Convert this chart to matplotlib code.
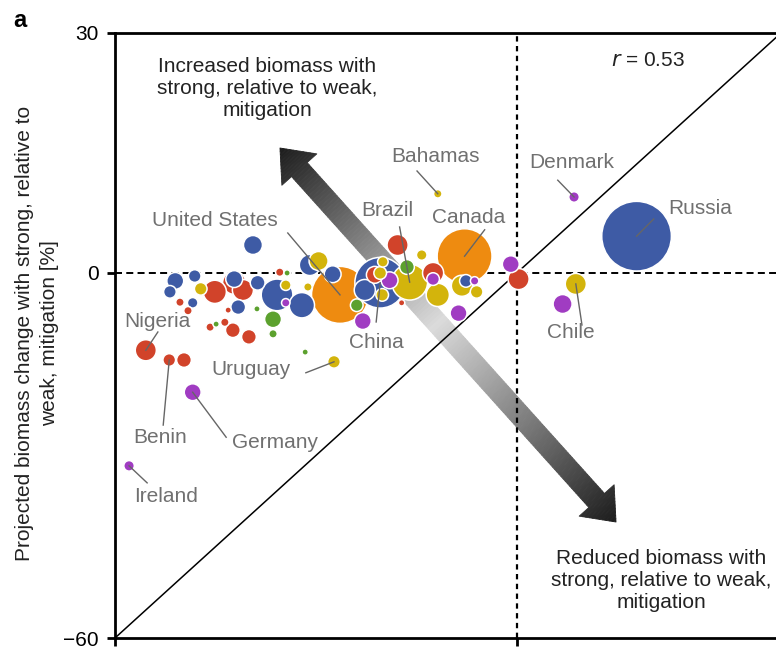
import numpy as np
import matplotlib
matplotlib.use("Agg")
import matplotlib.pyplot as plt
from matplotlib.collections import PolyCollection

plt.rcParams['font.family'] = ['Liberation Sans', 'DejaVu Sans']

# ---------------------------------------------------------------------------
# Per-country values: biomass change [%] (x: weak mitigation, y: strong
# relative to weak), bubble magnitude and region.
# ---------------------------------------------------------------------------
names = ['Russia', 'Canada', 'United States', 'China', 'Brazil', 'Bahamas',
         'Denmark', 'Chile', 'Nigeria', 'Benin', 'Germany', 'Ireland',
         'Uruguay'] + [''] * 59

x_vals = [13.6, -7.8, -26.4, -20.4, -16.0, -11.8,
          6.5, 6.7, -55.4, -51.9, -48.4, -57.9,
          -27.3,
          -49.7, 0.2, -0.9, -8.7, 5.2, -23.0, -31.6, -39.4, -17.8, -51.0,
          -48.1, -51.8, -47.2, -45.1, -50.3, -48.4, -49.1, -42.2, -42.2, -40.9,
          -41.6, -43.1, -45.8, -44.9, -43.6, -42.4, -40.0, -38.7, -35.4, -34.3,
          -34.5, -35.8, -34.5, -32.1, -38.8, -36.4, -36.4, -30.9, -29.6, -27.5,
          -31.2, -21.2, -20.4, -19.0, -20.1, -16.4, -14.2, -12.5, -12.5, -11.8,
          -17.2, -8.2, -7.6, -6.3, -20.0, -22.7, -23.9, -6.0]

y_vals = [4.6, 2.1, -3.6, -1.6, -1.5, 9.9,
          9.5, -1.8, -12.7, -14.3, -19.6, -31.7,
          -14.6,
          -14.3, -1.0, 1.1, -6.6, -5.1, -7.9, -13.0, 3.5, 3.5, -1.3,
          -0.5, -3.1, -2.6, -3.1, -4.8, -4.9, -6.2, -1.6, -1.0, -2.8,
          -5.6, -6.1, -8.9, -8.4, -8.1, -9.4, -10.5, -1.6, 0.1, 0.0,
          -2.0, -3.6, -4.9, -5.3, -5.9, -7.6, -10.0, 1.0, 1.5, -0.2,
          -2.3, -0.3, 0.0, -1.2, -3.6, 0.75, 2.25, 0.0, -1.0, -3.6,
          -4.9, -2.1, -1.3, -1.3, 1.4, -2.8, -5.3, -3.1]

bubble_mag = [33, 26, 27, 24, 17, 4,
              5, 10, 10, 6, 8, 5,
              6,
              7, 10, 8, 8, 9, 8, 3, 9, 10, 8,
              6, 6, 6, 11, 4, 5, 4, 11, 8, 10,
              7, 3, 4, 3, 4, 7, 7, 7, 4, 3,
              5, 15, 4, 12, 3, 8, 4, 10, 9, 8,
              4, 8, 6, 8, 6, 7, 5, 10, 6, 11,
              3, 10, 6, 4, 5, 10, 6, 6]

regions = ['AS', 'NA', 'NA', 'AS', 'LA', 'LA',
           'EU', 'LA', 'AF', 'AF', 'EU', 'EU',
           'LA',
           'AF', 'AF', 'EU', 'EU', 'EU', 'EU', 'OC', 'AS', 'AF', 'AS',
           'AS', 'AS', 'LA', 'AF', 'AF', 'AS', 'AF', 'AF', 'AS', 'AF',
           'AS', 'AF', 'AF', 'OC', 'AF', 'AF', 'AF', 'AS', 'AF', 'OC',
           'LA', 'AS', 'EU', 'AS', 'OC', 'OC', 'OC', 'AS', 'LA', 'AS',
           'LA', 'AF', 'LA', 'EU', 'LA', 'OC', 'LA', 'AF', 'EU', 'LA',
           'AF', 'LA', 'AS', 'EU', 'LA', 'AS', 'OC', 'LA']

region_colors = {'AS': '#3E5BA5', 'NA': '#EE8B10', 'LA': '#D3B40C',
                 'EU': '#A03CC2', 'AF': '#D1432A', 'OC': '#5CA12E'}

# label text centre and start of the leader line, in data units
label_pos = {
    'Bahamas': ((-12.1, 14.6), (-14.9, 12.75)),
    'Denmark': ((6.2, 13.75), (4.65, 11.6)),
    'Russia': ((20.8, 8.1), (15.55, 6.75)),
    'Canada': ((-7.2, 6.9), (-4.8, 5.4)),
    'Brazil': ((-19.4, 7.75), (-17.5, 5.75)),
    'United States': ((-45.1, 6.5), (-34.2, 5.0)),
    'China': ((-20.9, -11.5), (-21.0, -8.05)),
    'Nigeria': ((-53.7, -8.05), (-53.6, -9.7)),
    'Benin': ((-53.3, -27.0), (-52.8, -25.0)),
    'Germany': ((-36.1, -27.8), (-43.4, -27.0)),
    'Ireland': ((-52.4, -36.8), (-55.2, -34.5)),
    'Uruguay': ((-39.7, -15.9), (-31.5, -16.4)),
    'Chile': ((6.1, -9.7), (7.4, -8.55)),
}

# ---------------------------------------------------------------------------
# Axis scale: positive side stretched relative to the negative side
# ---------------------------------------------------------------------------
K = 1.315


def fwd(v):
    v = np.asarray(v, dtype=float)
    return np.where(v >= 0, v * K, v)


def inv(u):
    u = np.asarray(u, dtype=float)
    return np.where(u >= 0, u / K, u)


fig = plt.figure(figsize=(7.76, 6.48), dpi=100)
ax = fig.add_axes([115 / 776, 10 / 648, 666 / 776, 605 / 648])
ax.set_xscale('function', functions=(fwd, inv))
ax.set_yscale('function', functions=(fwd, inv))
ax.set_xlim(-60, 30)
ax.set_ylim(-60, 30)

# reference lines
ax.plot([-60, 30], [0, 0], color='black', lw=1.4, dashes=(3.6, 2.2), zorder=2)
ax.plot([0, 0], [-60, 30], color='black', lw=1.6, dashes=(2.4, 2.0), zorder=2)
ax.plot([-60, 0, 30], [-60, 0, 30], color='black', lw=1.1, zorder=3)

# double-headed gradient arrow (end points in axes fraction)
fig.canvas.draw()
p0 = ax.transAxes.transform((0.2477, 0.8099)) / fig.dpi
p1 = ax.transAxes.transform((0.7523, 0.1917)) / fig.dpi
d = p1 - p0
L = np.hypot(*d)
u = d / L
n = np.array([-u[1], u[0]])
head_len, head_hw, shaft_hw = 0.29, 0.235, 0.105


def seg_polys(s_edges, width_fn):
    polys, mids = [], []
    for a, b in zip(s_edges[:-1], s_edges[1:]):
        wa, wb = width_fn(a), width_fn(b)
        pa, pb = p0 + u * a, p0 + u * b
        polys.append([pa - n * wa, pb - n * wb, pb + n * wb, pa + n * wa])
        mids.append(0.5 * (a + b) / L)
    return polys, mids


polys, mids = [], []
for edges, fn in [
    (np.linspace(0, head_len, 12), lambda s: head_hw * s / head_len),
    (np.linspace(head_len, L - head_len, 140), lambda s: shaft_hw),
    (np.linspace(L - head_len, L, 12), lambda s: head_hw * (L - s) / head_len),
]:
    pp, mm = seg_polys(edges, fn)
    polys += pp
    mids += mm

mids = np.array(mids)
peak, lo, hi = 0.47, 0.11, 0.86
g = np.where(mids < peak, lo + (hi - lo) * mids / peak,
             hi - (hi - lo) * (mids - peak) / (1 - peak))
cols = [(v, v, v) for v in g]
pc = PolyCollection(polys, facecolors=cols, edgecolors=cols, linewidths=0.6,
                    transform=fig.dpi_scale_trans, zorder=1)
ax.add_collection(pc)

# bubbles, largest first so small ones sit on top
order = np.argsort(bubble_mag, kind='stable')[::-1]
xs = np.array(x_vals)[order]
ys = np.array(y_vals)[order]
ms = np.array(bubble_mag, dtype=float)[order]
cs = [region_colors[regions[i]] for i in order]
ax.scatter(xs, ys, s=(1.52 * ms) ** 2, c=cs, edgecolors='white',
           linewidths=1.1, zorder=4)

# labels with leader lines
for i, nm in enumerate(names):
    if not nm:
        continue
    (tx, ty), (lx, ly) = label_pos[nm]
    ax.plot([lx, x_vals[i]], [ly, y_vals[i]], color='#666666', lw=1.0,
            zorder=5)
    ax.text(tx, ty, nm, color='#707070', fontsize=15, ha='center',
            va='center', zorder=6)

fig.text(267 / 776, 1 - 88 / 648,
         'Increased biomass with\nstrong, relative to weak,\nmitigation',
         ha='center', va='center', fontsize=15, color='#222222',
         linespacing=1.2)
fig.text(661 / 776, 1 - 581 / 648,
         'Reduced biomass with\nstrong, relative to weak,\nmitigation',
         ha='center', va='center', fontsize=15, color='#222222',
         linespacing=1.2)
fig.text(648 / 776, 1 - 60 / 648, r'$\it{r}$ = 0.53', ha='center',
         va='center', fontsize=15, color='#222222')

# axes styling
for side in ('left', 'top', 'bottom'):
    ax.spines[side].set_linewidth(2.0)
ax.spines['right'].set_visible(False)
ax.set_yticks([-60, 0, 30])
ax.set_yticklabels(['\u221260', '0', '30'])
ax.set_xticks([-60, 0, 30])
ax.set_xticklabels(['', '', ''])
ax.minorticks_off()
ax.tick_params(axis='both', which='major', direction='out', length=6,
               width=2, labelsize=15, pad=5.5)

fig.text(37.5 / 776, 1 - 333 / 648,
         'Projected biomass change with strong, relative to\nweak, mitigation [%]',
         rotation=90, ha='center', va='center', fontsize=15, color='#222222',
         linespacing=1.4, multialignment='center')
fig.text(13 / 776, 1 - 27 / 648, 'a', fontsize=17, fontweight='bold',
         ha='left', va='baseline')

fig.savefig('out.png', dpi=100)
